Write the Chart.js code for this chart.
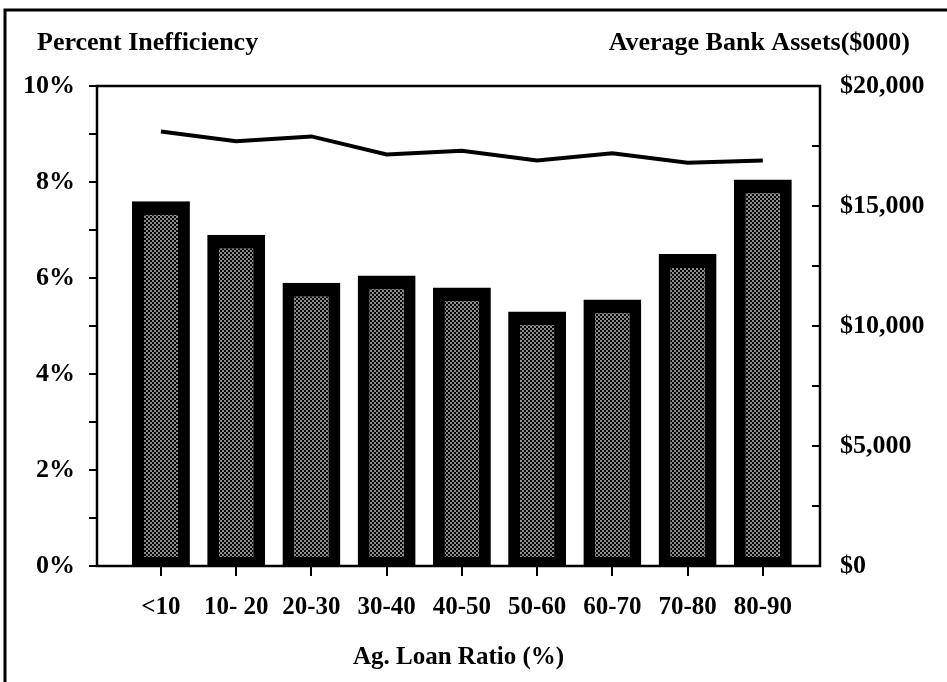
<!DOCTYPE html>
<html>
<head>
<meta charset="utf-8">
<script src="https://cdn.jsdelivr.net/npm/chart.js@4/dist/chart.umd.min.js"></script>
<style>
  html, body { margin: 0; padding: 0; background: #fff; }
  #wrap { width: 947px; height: 682px; position: relative; }
</style>
</head>
<body>
<div id="wrap"><canvas id="ineffChart" width="947" height="682"></canvas></div>
<script>
// data
const categories = ['<10', '10- 20', '20-30', '30-40', '40-50', '50-60', '60-70', '70-80', '80-90'];
const inefficiency = [7.6, 6.9, 5.9, 6.05, 5.8, 5.3, 5.55, 6.5, 8.05];      // percent
const bankAssets = [18100, 17700, 17900, 17150, 17300, 16900, 17200, 16800, 16900]; // $000
const leftTicks = ['0%', '2%', '4%', '6%', '8%', '10%'];
const rightTicks = ['$0', '$5,000', '$10,000', '$15,000', '$20,000'];

const serif = "'Liberation Serif', 'Times New Roman', serif";

// stippled fill for the bars
function stipple() {
    const c = document.createElement('canvas');
    c.width = 4; c.height = 4;
    const g = c.getContext('2d');
    g.fillStyle = '#000';
    g.fillRect(0, 0, 4, 4);
    g.fillStyle = '#8c8c8c';
    g.fillRect(0, 0, 2, 2);
    g.fillRect(2, 2, 2, 2);
    return g.createPattern(c, 'repeat');
}

const framePlugin = {
    id: 'frame',
    beforeDraw(chart) {
        const g = chart.ctx;
        g.save();
        g.fillStyle = '#fff';
        g.fillRect(0, 0, chart.width, chart.height);
        g.restore();
    },
    afterDraw(chart) {
        const g = chart.ctx;
        const a = chart.chartArea;
        g.save();
        g.strokeStyle = '#000';
        // outer page border
        g.lineWidth = 3;
        g.beginPath();
        g.moveTo(5, chart.height);
        g.lineTo(5, 10);
        g.lineTo(chart.width, 10);
        g.stroke();
        // plot box
        g.lineWidth = 2.5;
        g.strokeRect(a.left, a.top, a.right - a.left, a.bottom - a.top);
        // inward ticks on the right axis
        const y2 = chart.scales.y2;
        g.lineWidth = 2;
        y2.ticks.forEach(t => {
            const py = y2.getPixelForValue(t.value);
            g.beginPath();
            g.moveTo(a.right - 8, py);
            g.lineTo(a.right, py);
            g.stroke();
        });
        // header labels
        g.fillStyle = '#000';
        g.font = 'bold 26px ' + serif;
        g.textBaseline = 'alphabetic';
        g.textAlign = 'left';
        g.fillText('Percent Inefficiency', 37, 50);
        g.textAlign = 'right';
        g.fillText('Average Bank Assets($000)', 910, 50);
        g.restore();
    }
};

const ctx = document.getElementById('ineffChart').getContext('2d');
const ineffChart = new Chart(ctx, {
    type: 'bar',
    data: {
        datasets: [{
            type: 'line',
            label: 'Average Bank Assets',
            data: bankAssets.map((v, i) => ({ x: i, y: v })),
            yAxisID: 'y2',
            borderColor: '#000',
            borderWidth: 4,
            pointRadius: 0,
            tension: 0,
            fill: false,
            order: 0
        }, {
            label: 'Percent Inefficiency',
            data: inefficiency.map((v, i) => ({ x: i, y: v })),
            yAxisID: 'y',
            backgroundColor: stipple(),
            borderColor: '#000',
            borderWidth: { left: 12, right: 12, top: 14, bottom: 8 },
            borderSkipped: false,
            barPercentage: 0.77,
            categoryPercentage: 1,
            order: 1
        }]
    },
    options: {
        responsive: false,
        animation: false,
        layout: { padding: { top: 86, left: 0, right: 0, bottom: 0 } },
        plugins: {
            legend: { display: false },
            tooltip: { enabled: false }
        },
        scales: {
            x: {
                type: 'linear',
                min: -0.85,
                max: 8.76,
                offset: false,
                afterFit: s => { s.height = 116; },
                afterBuildTicks: s => { s.ticks = categories.map((c, i) => ({ value: i })); },
                border: { display: false },
                grid: { offset: false, drawOnChartArea: false, drawTicks: true, tickLength: 10, color: '#000', lineWidth: 2 },
                ticks: {
                    color: '#000',
                    padding: 17,
                    maxRotation: 0,
                    autoSkip: false,
                    font: { family: serif, size: 25, weight: 'bold' },
                    callback: v => categories[v] ?? ''
                },
                title: {
                    display: true,
                    text: 'Ag. Loan Ratio (%)',
                    color: '#000',
                    font: { family: serif, size: 25, weight: 'bold' },
                    padding: { top: 4, bottom: 9 }
                }
            },
            y: {
                position: 'left',
                min: 0,
                max: 10,
                afterFit: s => { s.width = 97; },
                border: { display: false },
                grid: { drawOnChartArea: false, drawTicks: true, tickLength: 8, color: '#000', lineWidth: 2 },
                ticks: {
                    stepSize: 1,
                    color: '#000',
                    padding: 14,
                    font: { family: serif, size: 26, weight: 'bold' },
                    callback: v => (v % 2 === 0 ? leftTicks[v / 2] : '')
                }
            },
            y2: {
                position: 'right',
                min: 0,
                max: 20000,
                afterFit: s => { s.width = 127; },
                border: { display: false },
                grid: { display: false, drawOnChartArea: false, drawTicks: false },
                ticks: {
                    stepSize: 2500,
                    color: '#000',
                    padding: 20,
                    font: { family: serif, size: 26, weight: 'bold' },
                    callback: v => (v % 5000 === 0 ? rightTicks[v / 5000] : '')
                }
            }
        }
    },
    plugins: [framePlugin]
});
</script>
</body>
</html>
